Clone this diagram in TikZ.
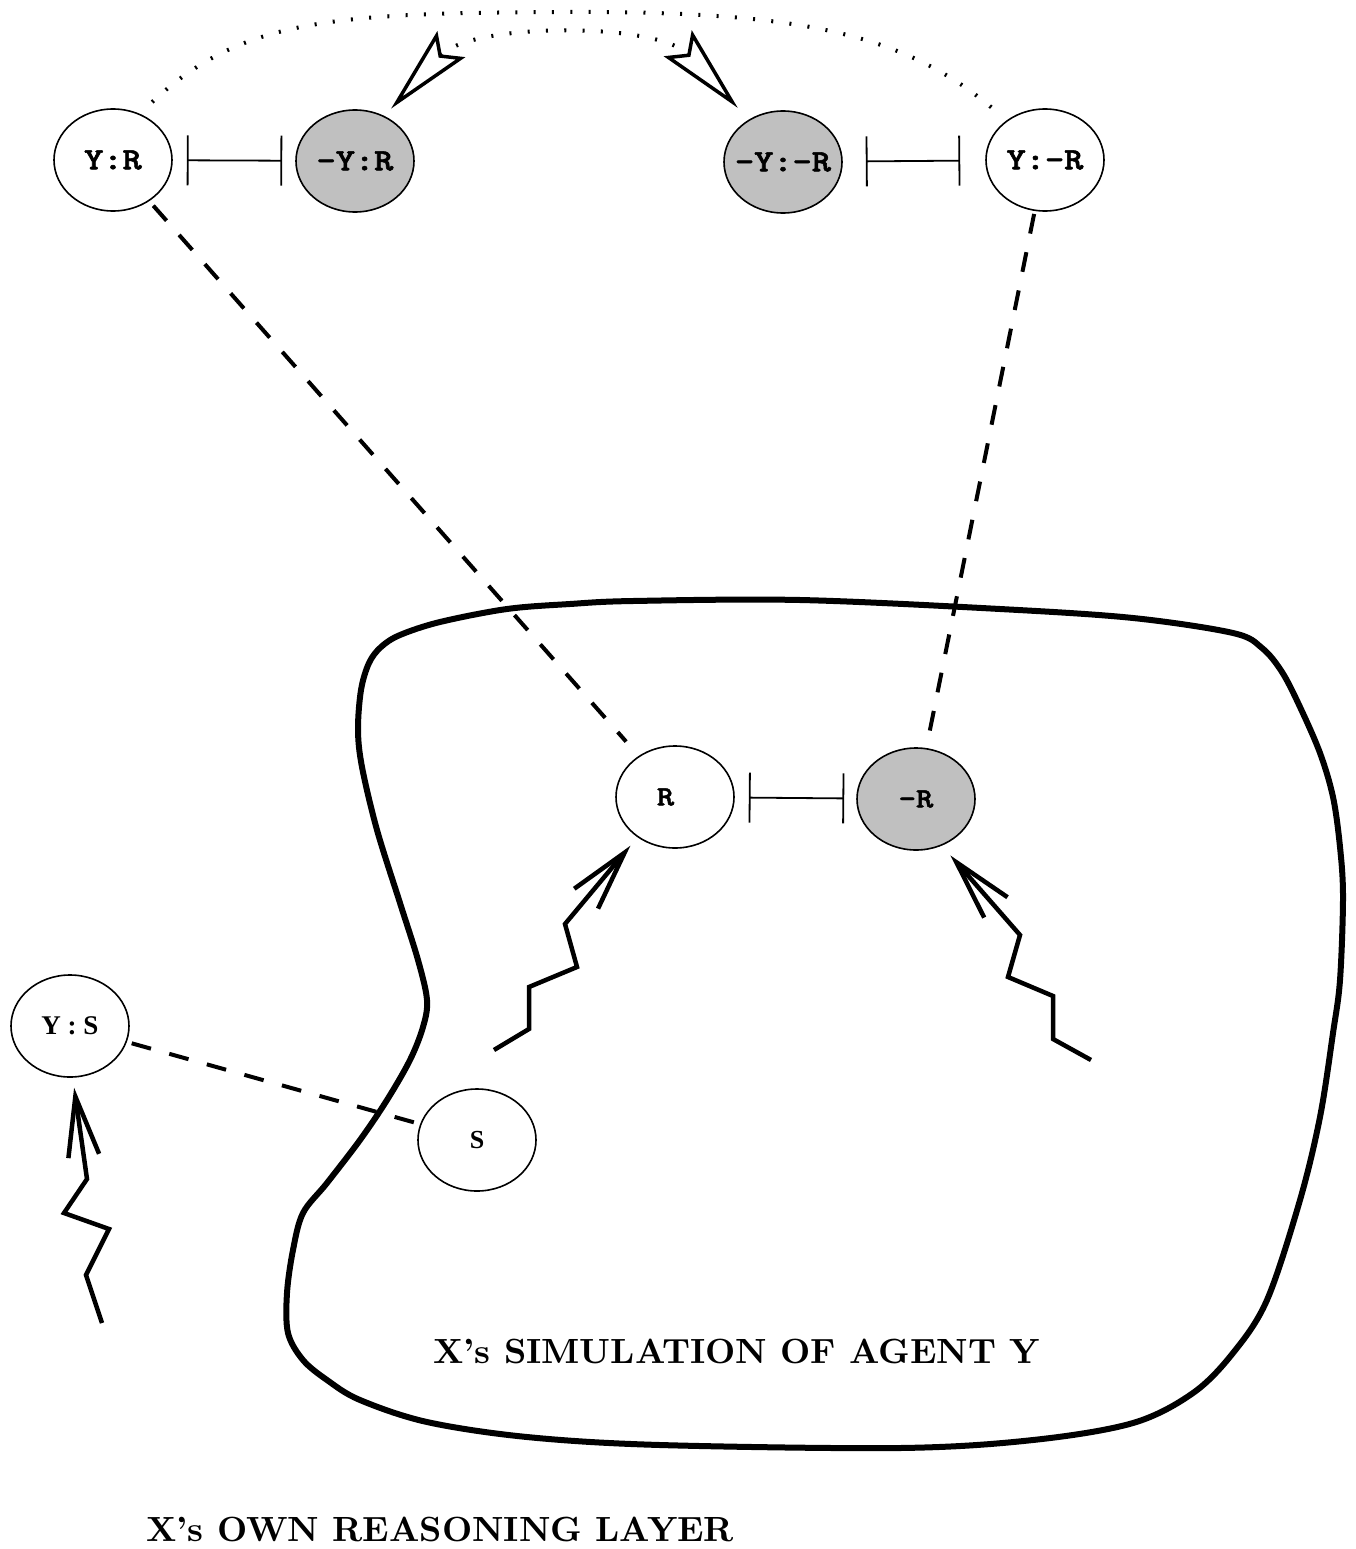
\documentclass[tikz,border=0pt]{standalone}
\usepackage{fontspec}
\newfontfamily\timesfont{Liberation Serif}
\newfontfamily\codefont{lmmonolt10-bold.otf}[FakeBold=1.6]
\newfontfamily\capfont{lmroman10-bold.otf}
\usetikzlibrary{arrows.meta,shapes.geometric}
\definecolor{neggray}{HTML}{C0C0C0}
\newcommand{\codelbl}[2]{\makebox[0pt]{\codefont\fontsize{#1}{#1}\selectfont\scalebox{1.18}[1]{#2}}}
\begin{document}
\begin{tikzpicture}[x=1pt,y=-1pt,
  state/.style={draw, line width=1.6pt, ellipse, minimum width=118pt,
    minimum height=102pt, inner sep=0pt},
  negstate/.style={state, fill=neggray},
  inhib/.style={line width=1.8pt, {Bar[width=50pt]}-{Bar[width=50pt]}},
  dashline/.style={line width=4pt, dash pattern=on 20pt off 19pt},
  dotline/.style={line width=4pt, dash pattern=on 2pt off 16.3pt},
  zig/.style={line width=4.5pt, miter limit=10, -{Straight Barb[length=60pt, width=31pt]}},
  blob/.style={line width=6pt},
  biglabel/.style={inner sep=0pt, font=\capfont\fontsize{35}{40}\selectfont},
  hollow/.tip={Stealth[open, length=88pt, width=38pt, inset=14pt, line width=3.5pt]}]

\useasboundingbox (0,0) rectangle (1356,1549);
\fill[white] (0,0) rectangle (1356,1549);

% outline of the simulated agent
\draw[blob] plot[smooth cycle, tension=0.55] coordinates {
  (400,635) (440,622) (507,609) (570,604) (633,601) (800,600) (1000,609)
  (1133,618) (1233,633)
  (1262,648) (1282,672) (1300,707) (1320,753) (1333,797) (1340,847) (1343,897)
  (1340,980) (1333,1033) (1320,1117) (1300,1200) (1267,1300) (1233,1353)
  (1193,1393) (1133,1423) (1033,1440) (900,1448) (660,1445) (527,1437)
  (427,1422) (360,1400) (327,1380) (303,1360) (288,1333) (287,1293) (293,1250)
  (303,1213) (327,1183) (360,1140) (387,1100) (410,1060) (423,1027) (427,1000)
  (418,960) (400,903) (377,830) (362,767) (358,730) (361,690) (369,663) (381,647)};

% belief nodes
\node[state] (YR) at (113,160) {\codelbl{31}{Y:R}};
\node[negstate] (nYR) at (355,161) {\codelbl{31}{-Y:R}};
\node[negstate] (nYnR) at (783,162) {\codelbl{31}{-Y:-R}};
\node[state] (YnR) at (1045,160) {\codelbl{31}{Y:-R}};
\node[state] (R) at (675,797) {\codelbl{28}{\hspace*{-8pt}R\hspace*{8pt}}};
\node[negstate] (nR) at (916,799) {\codelbl{28}{-R}};
\node[state, font=\timesfont\bfseries\fontsize{27}{27}\selectfont] (YS) at (70,1026) {Y : S};
\node[state, font=\timesfont\bfseries\fontsize{26}{26}\selectfont] (S) at (477,1140) {S};

% mutual exclusion
\draw[inhib, shorten <=14pt, shorten >=13pt] (YR) -- (nYR);
\draw[inhib, shorten <=23pt, shorten >=25pt] (nYnR) -- (YnR);
\draw[inhib, shorten <=14pt, shorten >=12pt] (R) -- (nR);

% correspondence links
\draw[dashline, shorten <=6pt, shorten >=19pt] (YR) -- (R);
\draw[dashline, shorten <=3pt, shorten >=8pt] (YnR) -- (nR);
\draw[dashline, shorten <=5pt] (YS) -- (S);

% dotted arcs over the top
\draw[dotline, shorten <=17pt, shorten >=18pt] (YR.60)
  .. controls (240,20) and (330,13) .. (560,12)
  .. controls (790,11) and (900,30) .. (YnR.134);
\draw[dotline, {hollow}-{hollow}, shorten <=10pt, shorten >=16pt] (nYR.57)
  .. controls (472,22) and (658,22) .. (nYnR.129);

% zigzag support arrows
\coordinate (a1) at (494,1050); \coordinate (a2) at (529,1029);
\coordinate (a3) at (529,987);  \coordinate (a4) at (577,967);
\coordinate (a5) at (565,924);
\draw[zig, shorten >=11pt] (a1) -- (a2) -- (a3) -- (a4) -- (a5) -- (R.-133);

\coordinate (b1) at (1091,1060); \coordinate (b2) at (1053,1039);
\coordinate (b3) at (1053,996);  \coordinate (b4) at (1008,977);
\coordinate (b5) at (1020,935);
\draw[zig, shorten >=13pt] (b1) -- (b2) -- (b3) -- (b4) -- (b5) -- (nR.-61);

\coordinate (c1) at (102,1323); \coordinate (c2) at (86,1275);
\coordinate (c3) at (109,1229); \coordinate (c4) at (64,1213);
\coordinate (c5) at (87,1179);
\draw[zig, shorten >=10pt] (c1) -- (c2) -- (c3) -- (c4) -- (c5) -- (YS.-87);

% captions
\node[biglabel, anchor=base west] (sim) at (433,1363) {X’s SIMULATION OF AGENT Y};
\node[biglabel, anchor=base west] (own) at (146,1541) {X’s OWN REASONING LAYER};
\end{tikzpicture}
\end{document}
